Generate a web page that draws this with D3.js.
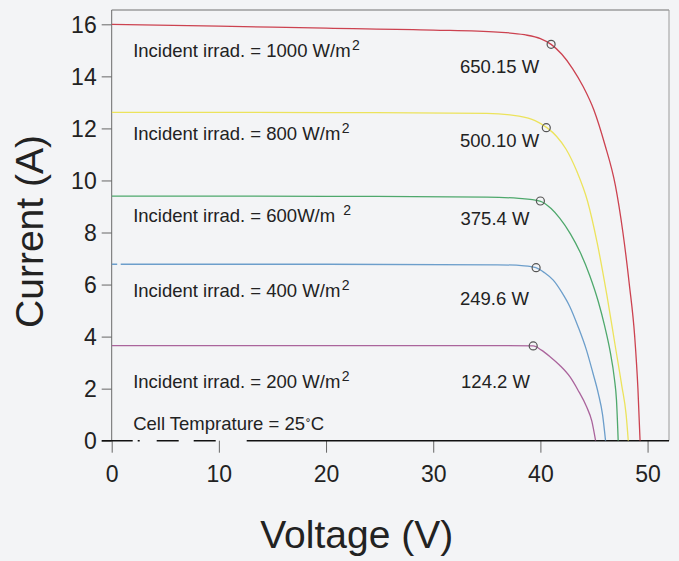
<!DOCTYPE html>
<html>
<head>
<meta charset="utf-8">
<script src="https://cdn.jsdelivr.net/npm/d3@7"></script>
<style>
  html, body { margin: 0; padding: 0; background: #f3f4f6; }
  svg { display: block; }
  text { font-family: "Liberation Sans", Arial, sans-serif; fill: #222; }
</style>
</head>
<body>
<svg id="chart" width="679" height="561"></svg>
<script>
// ---------------- data ----------------
const irradiances = [1000, 800, 600, 400, 200];
const seriesColors = ["#cc4250", "#ece35c", "#4ea86c", "#6c9ecb", "#aa649c"];

// I-V points [voltage V, current A]
const curve1000 = [[0,16.0],[10,15.93],[20,15.85],[30,15.78],[36,15.7],[38.5,15.6],[40,15.45],[41,15.23],[42,14.85],[43,14.3],[44,13.6],[45,12.7],[46,11.4],[47,9.8],[47.7,8.0],[48.3,6.0],[48.8,4.0],[49.1,2.0],[49.3,0]];
const curve800  = [[0,12.62],[20,12.61],[35,12.58],[38,12.47],[39.5,12.3],[40.6,12.03],[41.5,11.7],[42.4,11.2],[43.4,10.35],[44.4,9.2],[45.3,7.6],[46.2,5.6],[47,3.6],[47.6,2.1],[48.0,1.0],[48.2,0]];
const curve600  = [[0,9.4],[20,9.39],[35,9.36],[38,9.31],[39.95,9.21],[41,8.92],[41.8,8.55],[42.8,7.95],[43.7,7.25],[44.6,6.35],[45.4,5.35],[46,4.4],[46.5,3.45],[46.9,2.4],[47.1,1.56],[47.26,0]];
const curve400  = [[0,6.78],[20,6.78],[36,6.76],[38.5,6.72],[39.58,6.65],[40.4,6.45],[41.2,6.17],[42,5.7],[42.75,5.15],[43.5,4.4],[44.3,3.48],[44.9,2.6],[45.4,1.82],[45.8,1.0],[46.08,0]];
const curve200  = [[0,3.65],[20,3.65],[37,3.65],[39.33,3.64],[40.1,3.48],[40.9,3.23],[41.8,2.9],[42.75,2.46],[43.5,1.95],[44.3,1.31],[44.8,0.75],[45.15,0]];
const curves = [curve1000, curve800, curve600, curve400, curve200];

// maximum power points [V, I]
const mppPoints = [[41.0,15.23],[40.55,12.03],[40.0,9.21],[39.6,6.65],[39.33,3.64]];
const powerLabels = ["650.15 W", "500.10 W", "375.4 W", "249.6 W", "124.2 W"];
const irradLabels = ["Incident irrad. = 1000 W/m", "Incident irrad. = 800 W/m", "Incident irrad. = 600W/m", "Incident irrad. = 400 W/m", "Incident irrad. = 200 W/m"];
const tempLabel = "Cell Temprature = 25";

const xTicks = [0, 10, 20, 30, 40, 50];
const yTicks = [0, 2, 4, 6, 8, 10, 12, 14, 16];
const xTitle = "Voltage (V)";
const yTitle = "Current (A)";

// annotation anchors in data units [V, I]
const irradAnchors = [[2.0,14.75],[2.0,11.55],[2.0,8.41],[2.0,5.53],[2.0,2.01]];
const powerAnchors = [[32.5,14.11],[32.5,11.29],[32.55,8.29],[32.5,5.21],[32.6,2.01]];
const tempAnchor = [2.0, 0.41];

// ---------------- layout ----------------
const svg = d3.select("#chart");
const L = 111.7, R = 669, T = 10, B = 440.7;

const x = d3.scaleLinear().domain([0, 52]).range([L, R]);
const y = d3.scaleLinear().domain([0, 16.55]).range([B, T]);

svg.append("rect").attr("width", 679).attr("height", 561).attr("fill", "#f3f4f6");

svg.append("defs").append("clipPath").attr("id", "clip")
  .append("rect").attr("x", L).attr("y", T).attr("width", R - L).attr("height", B - T);

// frame (left, top, right)
svg.append("line").attr("x1", L).attr("x2", L).attr("y1", T).attr("y2", B)
  .attr("stroke", "#6a6a6a").attr("stroke-width", 1);
svg.append("line").attr("x1", L).attr("x2", R).attr("y1", T).attr("y2", T)
  .attr("stroke", "#707070").attr("stroke-width", 1);
svg.append("line").attr("x1", R).attr("x2", R).attr("y1", T).attr("y2", B)
  .attr("stroke", "#9a9a9a").attr("stroke-width", 1);

// axes
const yAxis = svg.append("g").attr("transform", `translate(${L},0)`)
  .call(d3.axisLeft(y).tickValues(yTicks).tickSize(10).tickPadding(5).tickFormat(d3.format("d")));
yAxis.select(".domain").remove();
yAxis.selectAll(".tick line").attr("stroke", "#666");
yAxis.selectAll(".tick text").attr("font-size", 23).attr("fill", "#222")
  .attr("font-family", "'Liberation Sans', Arial, sans-serif").attr("dy", "0.36em");

const xAxis = svg.append("g").attr("transform", `translate(0,${B})`)
  .call(d3.axisBottom(x).tickValues(xTicks).tickSize(12).tickPadding(13).tickFormat(d3.format("d")));
xAxis.select(".domain").remove();
xAxis.selectAll(".tick line").attr("stroke", "#666");
xAxis.selectAll(".tick text").attr("font-size", 23).attr("fill", "#222")
  .attr("font-family", "'Liberation Sans', Arial, sans-serif");

// x-axis baseline (partly broken on the left, as in the picture)
svg.append("line").attr("x1", L - 10).attr("x2", R).attr("y1", B).attr("y2", B)
  .attr("stroke", "#111").attr("stroke-width", 1.6)
  .attr("stroke-dasharray", "31,5,2,17,22,15,22,31,2000");

// curves
const line = d3.line().x(d => x(d[0])).y(d => y(d[1])).curve(d3.curveMonotoneX);
const plot = svg.append("g").attr("clip-path", "url(#clip)");
curves.forEach((c, i) => {
  plot.append("path").datum(c)
    .attr("d", line)
    .attr("fill", "none")
    .attr("stroke", seriesColors[i])
    .attr("stroke-width", 1.3)
    .attr("stroke-dasharray", i === 3 ? "5.5,3.5,3000" : null);
});

// max power point markers
svg.append("g").selectAll("circle").data(mppPoints).join("circle")
  .attr("cx", d => x(d[0])).attr("cy", d => y(d[1])).attr("r", 4)
  .attr("fill", "none").attr("stroke", "#555").attr("stroke-width", 1.2);

// irradiance labels with superscript
irradLabels.forEach((t, i) => {
  const tx = svg.append("text")
    .attr("x", x(irradAnchors[i][0])).attr("y", y(irradAnchors[i][1]))
    .attr("font-size", 18.5);
  tx.append("tspan").text(t);
  tx.append("tspan").text("2").attr("font-size", 14)
    .attr("dx", i === 2 ? 8 : 1.5).attr("dy", -7);
});

// power labels
svg.append("g").selectAll("text").data(powerLabels).join("text")
  .attr("x", (d, i) => x(powerAnchors[i][0])).attr("y", (d, i) => y(powerAnchors[i][1]))
  .attr("font-size", 18.5).text(d => d);

// cell temperature
const tt = svg.append("text").attr("x", x(tempAnchor[0])).attr("y", y(tempAnchor[1]))
  .attr("font-size", 18.5);
tt.append("tspan").text(tempLabel);
tt.append("tspan").text("˚").attr("font-size", 14).attr("dx", 1);
tt.append("tspan").text("C");

// axis titles
svg.append("text").attr("x", 356.7).attr("y", 548)
  .attr("text-anchor", "middle").attr("font-size", 39).attr("fill", "#111").text(xTitle);
svg.append("text").attr("transform", "translate(43,231.5) rotate(-90)")
  .attr("text-anchor", "middle").attr("font-size", 39).attr("fill", "#111").text(yTitle);
</script>
</body>
</html>
